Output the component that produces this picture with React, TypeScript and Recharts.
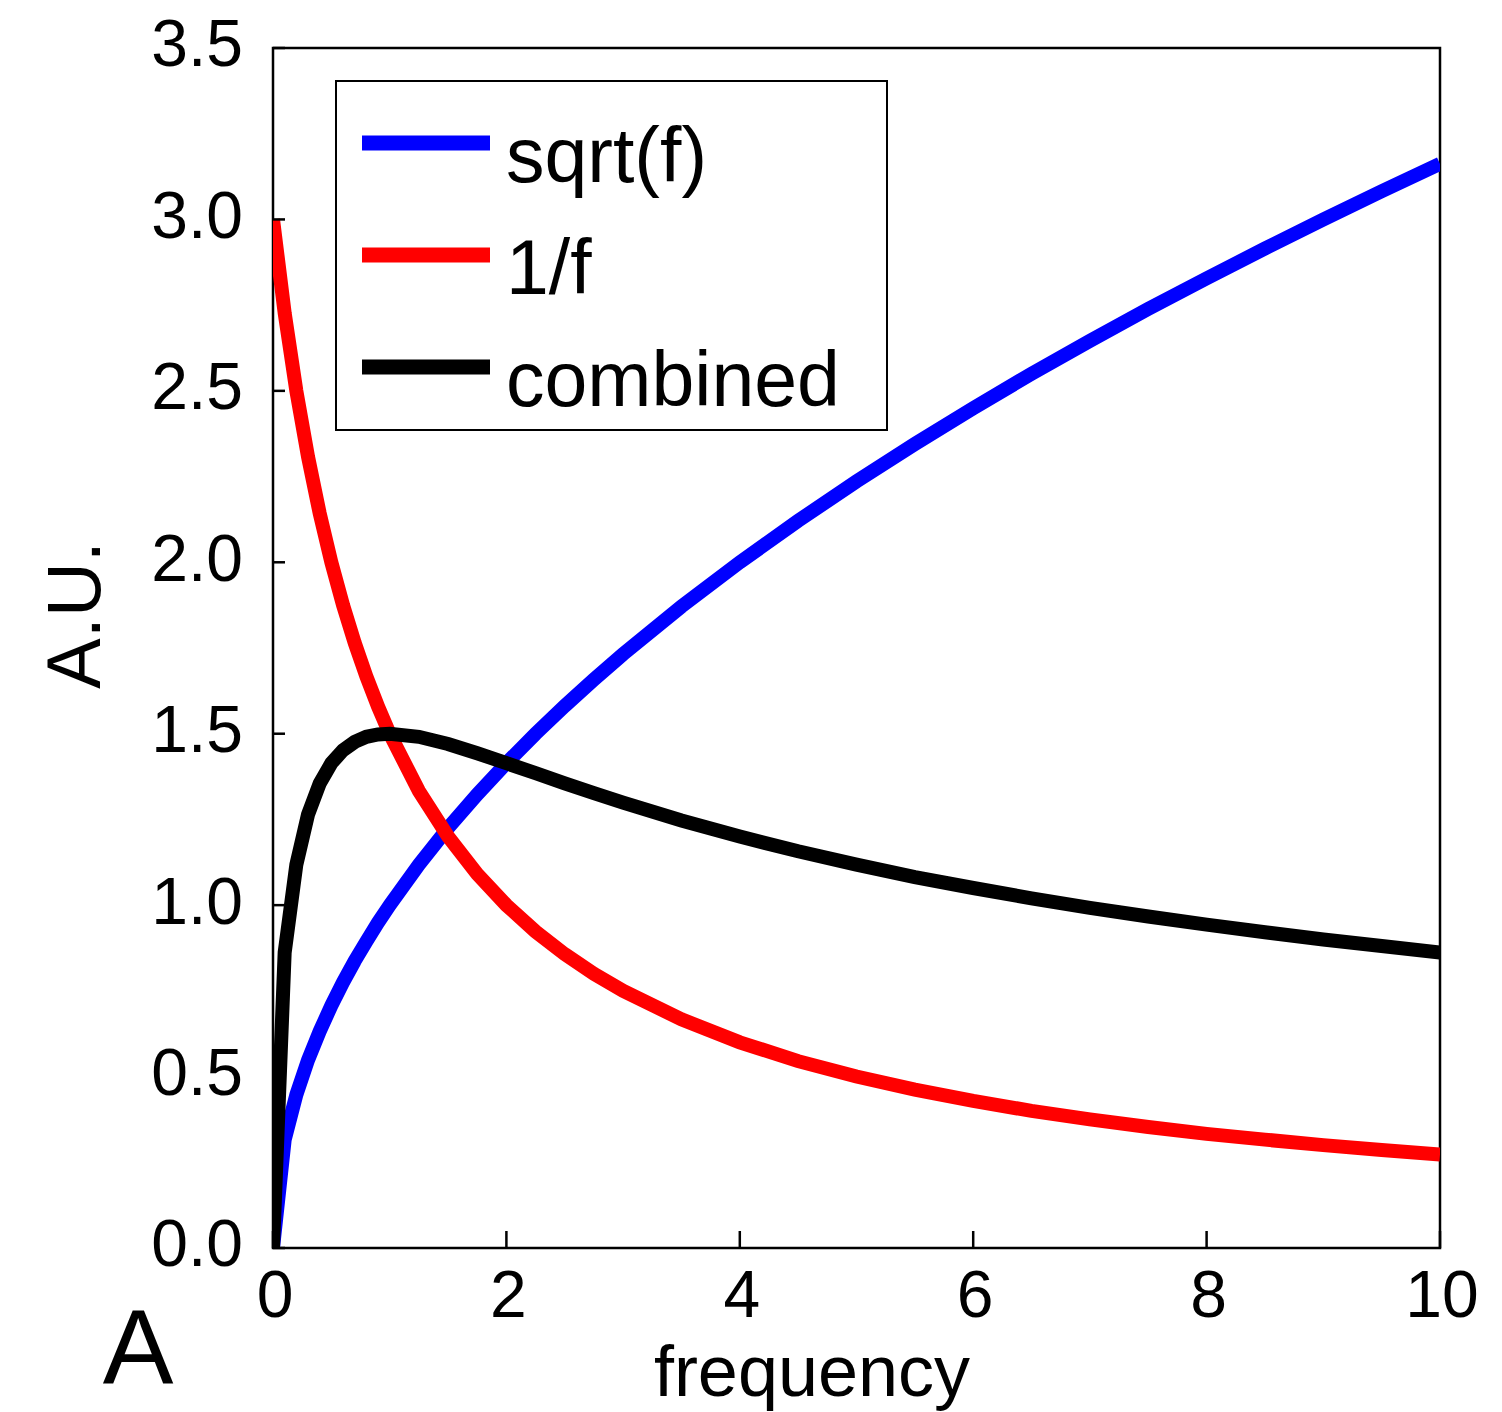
import {
  LineChart,
  Line,
  XAxis,
  YAxis,
  ReferenceArea,
  Legend,
  Customized,
} from 'recharts';

// frequency samples (denser near 0 where the curves bend hard)
const freq = [
  0, 0.1, 0.2, 0.3, 0.4, 0.5, 0.6, 0.7, 0.8, 0.9, 1.0,
  1.25, 1.5, 1.75, 2.0, 2.25, 2.5, 2.75, 3.0, 3.5, 4.0,
  4.5, 5.0, 5.5, 6.0, 6.5, 7.0, 7.5, 8.0, 8.5, 9.0, 9.5, 10,
];
const sqrtVals = [
  0, 0.316, 0.447, 0.548, 0.632, 0.707, 0.775, 0.837, 0.894, 0.949, 1.0,
  1.118, 1.225, 1.323, 1.414, 1.5, 1.581, 1.658, 1.732, 1.871, 2.0,
  2.121, 2.236, 2.345, 2.449, 2.55, 2.646, 2.739, 2.828, 2.915, 3.0, 3.082, 3.162,
];
const invVals = [
  3.0, 2.727, 2.5, 2.308, 2.143, 2.0, 1.875, 1.765, 1.667, 1.579, 1.5,
  1.333, 1.2, 1.091, 1.0, 0.923, 0.857, 0.8, 0.75, 0.667, 0.6,
  0.545, 0.5, 0.462, 0.429, 0.4, 0.375, 0.353, 0.333, 0.316, 0.3, 0.286, 0.273,
];
const combinedVals = [
  0, 0.862, 1.118, 1.264, 1.355, 1.414, 1.452, 1.476, 1.491, 1.498, 1.5,
  1.491, 1.47, 1.443, 1.414, 1.385, 1.355, 1.327, 1.299, 1.247, 1.2,
  1.157, 1.118, 1.082, 1.05, 1.02, 0.992, 0.967, 0.943, 0.921, 0.9, 0.881, 0.862,
];

const xTicks = [0, 2, 4, 6, 8, 10];
const topTicks = [2, 4, 6, 8];
const yTicks = [0, 0.5, 1.0, 1.5, 2.0, 2.5, 3.0, 3.5];

const series = [
  { key: 'sqrt', name: 'sqrt(f)', color: '#0000ff' },
  { key: 'inv', name: '1/f', color: '#ff0000' },
  { key: 'combined', name: 'combined', color: '#000000' },
];

const data = freq.map((f, i) => ({
  f,
  sqrt: sqrtVals[i],
  inv: invVals[i],
  combined: combinedVals[i],
}));

const FONT = '"Liberation Sans", Arial, Helvetica, sans-serif';

const BottomTick = ({ x, y, payload }: any) => (
  <g>
    <line x1={x} x2={x} y1={y} y2={y - 17} stroke="#000" strokeWidth={2.5} />
    <text x={x + 2} y={y + 22} dy="0.71em" textAnchor="middle" fontSize={66} fontFamily={FONT} fill="#000">
      {payload.value}
    </text>
  </g>
);

const TopTick = ({ x, y }: any) => (
  <line x1={x} x2={x} y1={y} y2={y + 18} stroke="#000" strokeWidth={2.5} />
);

const LeftTick = ({ x, y, payload }: any) => (
  <g>
    <line x1={x} x2={x + 12} y1={y} y2={y} stroke="#000" strokeWidth={2.5} />
    <text x={x - 30} y={y - 5} dy="0.355em" textAnchor="end" fontSize={66} fontFamily={FONT} fill="#000">
      {Number(payload.value).toFixed(1)}
    </text>
  </g>
);

const LegendBox = () => (
  <svg width={553} height={351} style={{ display: 'block' }}>
    <rect x={1} y={1} width={551} height={349} fill="#fff" stroke="#000" strokeWidth={2} />
    {series.map((s, i) => (
      <g key={s.key}>
        <line x1={27} x2={155} y1={63 + i * 112} y2={63 + i * 112} stroke={s.color} strokeWidth={15} />
        <text x={171} y={102 + i * 112} fontSize={77} fontFamily={FONT} fill="#000">
          {s.name}
        </text>
      </g>
    ))}
  </svg>
);

const PanelLabel = () => (
  <g>
    <text x={138} y={1383} textAnchor="middle" fontSize={106} fontFamily={FONT} fill="#000">
      A
    </text>
  </g>
);

export default function App() {
  return (
    <div style={{ position: 'absolute', left: 0, top: 0, background: '#fff' }}>
      <LineChart
        width={1502}
        height={1412}
        data={data}
        margin={{ top: 48, right: 62, bottom: 0, left: 0 }}
      >
        <ReferenceArea
          x1={0}
          x2={10}
          y1={0}
          y2={3.5}
          fill="none"
          stroke="#000"
          strokeWidth={2.5}
          ifOverflow="visible"
        />
        <XAxis
          dataKey="f"
          type="number"
          domain={[0, 10]}
          ticks={xTicks}
          allowDataOverflow
          axisLine={false}
          tickLine={false}
          tickSize={0}
          tickMargin={0}
          height={164}
          tick={<BottomTick />}
          interval={0}
          label={() => (
            <text x={812} y={1396} textAnchor="middle" fontSize={72} fontFamily={FONT} fill="#000">
              frequency
            </text>
          )}
        />
        <XAxis
          xAxisId="top"
          dataKey="f"
          type="number"
          orientation="top"
          domain={[0, 10]}
          ticks={topTicks}
          axisLine={false}
          tickLine={false}
          tickSize={0}
          tickMargin={0}
          height={0}
          tick={<TopTick />}
          interval={0}
        />
        <YAxis
          type="number"
          domain={[0, 3.5]}
          ticks={yTicks}
          allowDataOverflow
          axisLine={false}
          tickLine={false}
          tickSize={0}
          tickMargin={0}
          width={273}
          tick={<LeftTick />}
          interval={0}
          label={() => (
            <text
              x={100}
              y={615}
              textAnchor="middle"
              fontSize={76}
              fontFamily={FONT}
              fill="#000"
              transform="rotate(-90, 100, 615)"
            >
              A.U.
            </text>
          )}
        />
        {series.map((s) => (
          <Line
            key={s.key}
            type="linear"
            dataKey={s.key}
            name={s.name}
            stroke={s.color}
            strokeWidth={14}
            dot={false}
            activeDot={false}
            isAnimationActive={false}
          />
        ))}
        <Legend
          layout="vertical"
          align="center"
          verticalAlign="middle"
          content={<LegendBox />}
          wrapperStyle={{ left: 335, top: 80, width: 553, height: 351 }}
        />
        <Customized component={PanelLabel} />
      </LineChart>
    </div>
  );
}
